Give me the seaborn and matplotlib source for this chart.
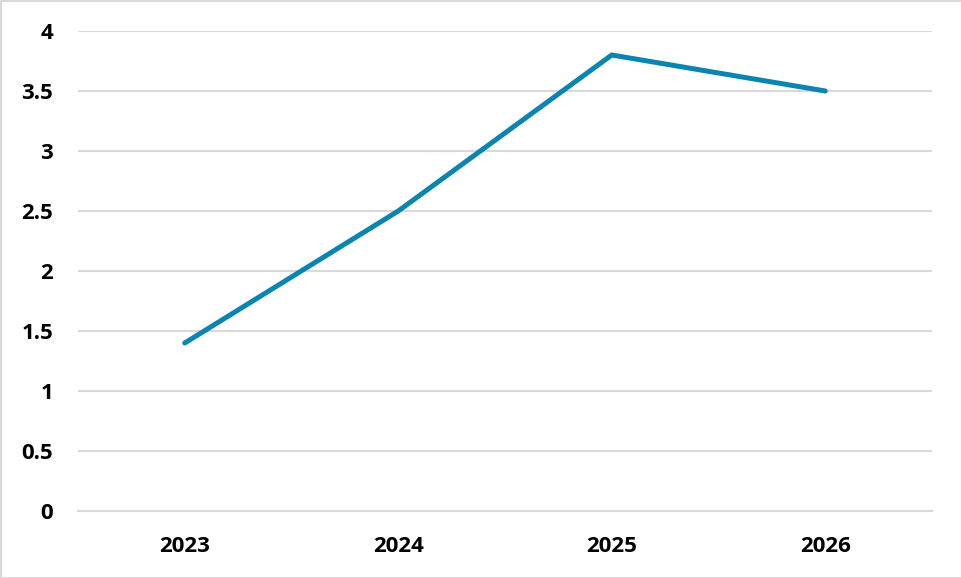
import matplotlib
matplotlib.use("Agg")
import matplotlib.pyplot as plt
import seaborn as sns
import pandas as pd

# ─── DATA ───────────────────────────────────────────────
years  = ["2023", "2024", "2025", "2026"]
values = [1.4, 2.5, 3.8, 3.5]
yticks = [0, 0.5, 1, 1.5, 2, 2.5, 3, 3.5, 4]

LINE_COLOR = "#0A85B1"
GRID_COLOR = "#D9D9D9"

sns.set_theme(style="white")
plt.rcParams["font.family"] = ["Open Sans", "DejaVu Sans"]

df = pd.DataFrame({"year": years, "value": values})

fig = plt.figure(figsize=(9.62, 5.78), dpi=100)
fig.patch.set_edgecolor(GRID_COLOR)
fig.patch.set_linewidth(2)
ax = fig.add_axes([78 / 962, 67 / 578, 854 / 962, 480 / 578])

sns.lineplot(data=df, x="year", y="value", ax=ax, color=LINE_COLOR,
             linewidth=3.6, solid_capstyle="round", solid_joinstyle="miter")

ax.set_xlim(-0.5, len(years) - 0.5)
ax.set_ylim(0, 4)
ax.set_yticks(yticks)
ax.set_yticklabels([f"{t:g}" for t in yticks])
ax.yaxis.grid(True, color=GRID_COLOR, linewidth=1.5)
ax.set_axisbelow(True)
for s in ["top", "right", "left"]:
    ax.spines[s].set_visible(False)
ax.spines["bottom"].set_color(GRID_COLOR)
ax.spines["bottom"].set_linewidth(1.5)

ax.tick_params(axis="both", length=0, labelsize=16, labelcolor="black")
ax.tick_params(axis="y", pad=18)
ax.tick_params(axis="x", pad=18)
for lbl in ax.get_xticklabels() + ax.get_yticklabels():
    lbl.set_fontweight("bold")

ax.set_xlabel("")
ax.set_ylabel("")

fig.savefig("out.png", dpi=100)
